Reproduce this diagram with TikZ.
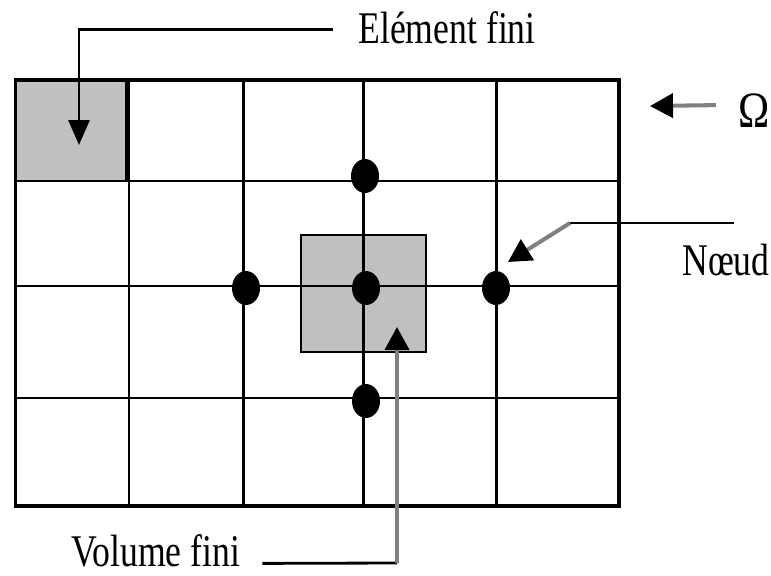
\documentclass[tikz,border=0pt]{standalone}
\usepackage{graphicx}
\usepackage{fontspec}
\setmainfont{Liberation Serif}
\usetikzlibrary{arrows.meta,shapes.geometric}

\definecolor{cellgray}{HTML}{C0C0C0}
\definecolor{linegray}{HTML}{808080}
\newcommand{\tallt}[1]{\scalebox{1}[1.27]{#1}}

\tikzset{
  gridline/.style={line width=1.6pt},
  nodedot/.style={ellipse, fill=black, inner sep=0pt, minimum width=0.56cm, minimum height=0.68cm},
  lbltext/.style={font=\fontsize{20.3}{24}\selectfont, inner sep=0pt},
  blkptr/.style={line width=1.7pt, -{Triangle[width=0.42cm,length=0.5cm]}},
  grayptr/.style={line width=2.3pt, linegray, -{Triangle[width=0.48cm,length=0.46cm,color=black]}},
}

\begin{document}
\begin{tikzpicture}[x=0.02cm, y=-0.02cm]
  \useasboundingbox (0,0) rectangle (771,575);

  % Shaded element and control volume
  \fill[cellgray] (15.5,80) rectangle (128,181);
  \fill[cellgray] (301,235) rectangle (426,352);

  % Mesh of the domain
  \foreach \x in {129,243.5,363.5,496.5}
    \draw[gridline] (\x,80) -- (\x,506);
  \foreach \y in {181,286,398}
    \draw[gridline] (15.5,\y) -- (619,\y);
  \draw[line width=1.9pt] (15.5,80) rectangle (619,506);
  \draw[line width=3.1pt] (127.5,80) -- (127.5,181);
  \draw[gridline] (301,235) rectangle (426,352);

  % Nodes
  \node[nodedot] (nW) at (246,288) {};
  \node[nodedot] (nC) at (366,288) {};
  \node[nodedot] (nE) at (496,288) {};
  \node[nodedot] (nN) at (365,176) {};
  \node[nodedot] (nS) at (366,401) {};

  % Labels
  \node[lbltext, anchor=base west] (elem) at (358,43) {\tallt{Elément fini}};
  \node[lbltext, anchor=base west] (omega) at (738,127) {\scalebox{1.18}[1.43]{Ω}};
  \node[lbltext, anchor=base west] (noeud) at (682,275) {\tallt{Nœud}};
  \node[lbltext, anchor=base west] (volume) at (71,566) {\tallt{Volume fini}};

  % Pointers
  \coordinate (elemTip) at (79,145);
  \coordinate (omegaTip) at (650,106);
  \coordinate (noeudTail) at (734,223);
  \coordinate (noeudBend) at (570,223);
  \coordinate (noeudTip) at (508,262);
  \coordinate (volCorner) at (397,563);
  \coordinate (volTip) at (397,327);

  \draw[blkptr] ([shift={(-25,2)}]elem.west) -| (elemTip);
  \draw[grayptr] ([shift={(-22,-5)}]omega.west) -- (omegaTip);
  \draw[gridline] (noeudTail) -- (noeudBend);
  \draw[grayptr] (noeudBend) -- (noeudTip);
  \draw[gridline] ([shift={(22,13)}]volume.east) -- (volCorner);
  \draw[grayptr] (volCorner) -- (volTip);
\end{tikzpicture}
\end{document}
